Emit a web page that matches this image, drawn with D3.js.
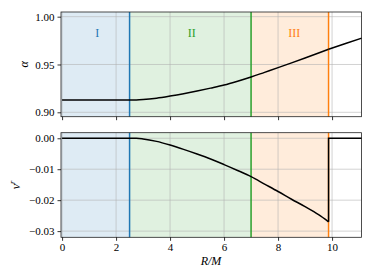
<!DOCTYPE html>
<html>
<head>
<meta charset="utf-8">
<script src="https://cdn.jsdelivr.net/npm/d3@7"></script>
<style>
  body { margin: 0; background: #fff; }
  svg text { font-family: "Liberation Serif", "DejaVu Serif", serif; }
  .grid line { stroke: #b0b0b0; stroke-opacity: 0.7; stroke-width: 0.8; }
  .tick text { font-size: 11px; fill: #000; }
  .tick line { stroke: #000; stroke-width: 0.8; }
  .domain { display: none; }
</style>
</head>
<body>
<svg id="chart" width="374" height="280"></svg>
<script>
// radius samples R/M
var radius = [0, 2.5, 2.75, 3, 3.5, 4, 4.5, 5, 5.5, 6, 6.5, 7, 7.5, 8, 8.5, 9, 9.5, 9.87, 9.87, 10.5, 11.1];
// lapse alpha
var alpha = [0.9128, 0.9128, 0.9129, 0.9133, 0.9148, 0.9170, 0.9195, 0.9223, 0.9253, 0.9285, 0.9325, 0.9369,
             0.9418, 0.9467, 0.9517, 0.9568, 0.9620, 0.9660, 0.9660, 0.9720, 0.9776];
// radial velocity v^r (jumps back to 0 at the shock)
var velocity = [0, 0, 0, -0.0002, -0.0010, -0.0022, -0.0036, -0.0051, -0.0067, -0.0085, -0.0104, -0.0124,
                -0.0148, -0.0172, -0.0197, -0.0221, -0.0247, -0.0270, 0, 0, 0];

// region boundaries and labels
var regionEdges = [2.5, 7, 9.87];
var regionNames = ["I", "II", "III"];
var regionColors = ["#1f77b4", "#2ca02c", "#ff7f0e"];

var xTicks = [0, 2, 4, 6, 8, 10];
var alphaTicks = [0.90, 0.95, 1.00];
var velTicks = [0.00, -0.01, -0.02, -0.03];

var serif = "'Liberation Serif', 'DejaVu Serif', serif";
var svg = d3.select("#chart");
var x = d3.scaleLinear().domain([-0.04, 11.09]).range([61, 361.5]);

var panels = [
  {top: 12, bottom: 116.7, domain: [0.8954, 1.0049], ticks: alphaTicks, fmt: d3.format(".2f"),
   values: alpha, label: "α", labelX: 28, xLabels: false},
  {top: 132.7, bottom: 237.3, domain: [-0.0320, 0.0018], ticks: velTicks, fmt: function(d){ return d3.format(".2f")(d).replace("-", "\u2212"); },
   values: velocity, label: "v", labelX: 20, xLabels: true}
];

panels.forEach(function(p, pi){
  var y = d3.scaleLinear().domain(p.domain).range([p.bottom, p.top]);
  var g = svg.append("g");

  // shaded regions
  var starts = [x.domain()[0]].concat(regionEdges.slice(0, 2));
  regionEdges.forEach(function(e, i){
    g.append("rect")
      .attr("x", x(starts[i]))
      .attr("y", p.top)
      .attr("width", x(e) - x(starts[i]))
      .attr("height", p.bottom - p.top)
      .attr("fill", regionColors[i])
      .attr("fill-opacity", 0.15);
  });

  // grid
  g.append("g").attr("class", "grid")
    .selectAll("line.v").data(xTicks).enter().append("line")
    .attr("x1", function(d){ return x(d); }).attr("x2", function(d){ return x(d); })
    .attr("y1", p.top).attr("y2", p.bottom);
  g.append("g").attr("class", "grid")
    .selectAll("line.h").data(p.ticks).enter().append("line")
    .attr("x1", x.range()[0]).attr("x2", x.range()[1])
    .attr("y1", function(d){ return y(d); }).attr("y2", function(d){ return y(d); });

  // region boundary lines
  g.selectAll("line.edge").data(regionEdges).enter().append("line")
    .attr("x1", function(d){ return x(d); }).attr("x2", function(d){ return x(d); })
    .attr("y1", p.top).attr("y2", p.bottom)
    .attr("stroke", function(d, i){ return regionColors[i]; })
    .attr("stroke-width", 1.5);

  // curve
  var pts = radius.map(function(r, i){ return [r, p.values[i]]; });
  var smooth = pts.slice(0, 18), tail = pts.slice(17);
  var line = d3.line().x(function(d){ return x(d[0]); }).y(function(d){ return y(d[1]); });
  g.append("path").datum(smooth)
    .attr("d", line.curve(d3.curveMonotoneX))
    .attr("fill", "none").attr("stroke", "#000").attr("stroke-width", 1.5);
  g.append("path").datum(tail)
    .attr("d", line.curve(d3.curveLinear))
    .attr("fill", "none").attr("stroke", "#000").attr("stroke-width", 1.5);

  // frame
  g.append("rect")
    .attr("x", x.range()[0]).attr("y", p.top)
    .attr("width", x.range()[1] - x.range()[0]).attr("height", p.bottom - p.top)
    .attr("fill", "none").attr("stroke", "#222").attr("stroke-width", 0.8);

  // axes
  g.append("g").attr("transform", "translate(" + x.range()[0] + ",0)")
    .call(d3.axisLeft(y).tickValues(p.ticks).tickFormat(p.fmt).tickSize(3.5).tickPadding(3))
    .attr("font-family", serif).attr("font-size", 11);
  g.append("g").attr("transform", "translate(0," + p.bottom + ")")
    .call(d3.axisBottom(x).tickValues(xTicks).tickSize(3.5).tickPadding(2)
      .tickFormat(p.xLabels ? d3.format("d") : function(){ return ""; }))
    .attr("font-family", serif).attr("font-size", 11);

  // y label
  var yl = g.append("text")
    .attr("transform", "translate(" + p.labelX + "," + ((p.top + p.bottom) / 2) + ") rotate(-90)")
    .attr("text-anchor", "middle")
    .attr("font-size", 12)
    .attr("font-style", "italic")
    .text(p.label);
  if (pi === 1) {
    yl.append("tspan").attr("baseline-shift", "super").attr("font-size", 8.5).text("r");
  }

  // region names
  if (pi === 0) {
    var mids = [1.3, 4.8, 8.6];
    g.selectAll("text.reg").data(regionNames).enter().append("text")
      .attr("x", function(d, i){ return x(mids[i]); })
      .attr("y", 36.5)
      .attr("text-anchor", "middle")
      .attr("font-size", 12)
      .attr("fill", function(d, i){ return regionColors[i]; })
      .text(function(d){ return d; });
  }
});

// x label
svg.append("text")
  .attr("x", 211).attr("y", 265)
  .attr("text-anchor", "middle")
  .attr("font-size", 12)
  .attr("font-style", "italic")
  .text("R/M");
</script>
</body>
</html>
